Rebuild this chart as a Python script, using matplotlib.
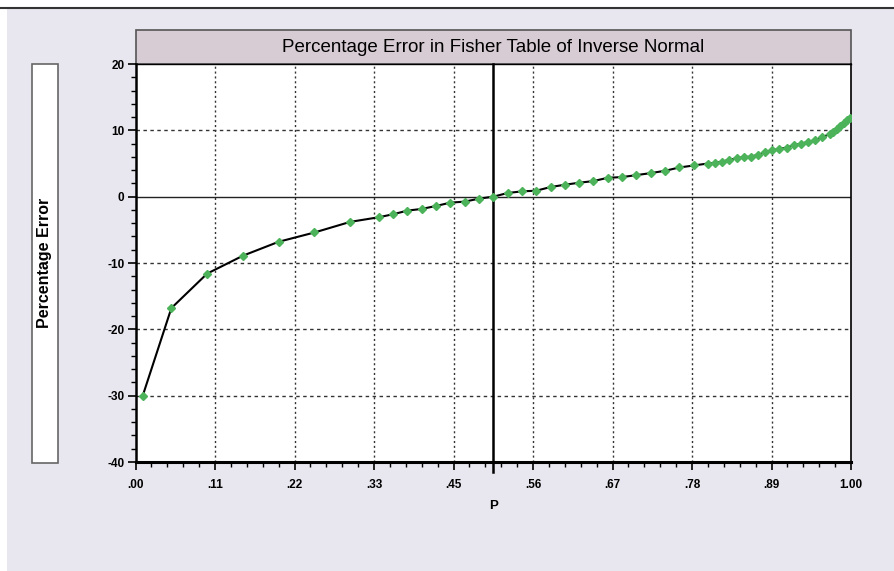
import matplotlib.pyplot as plt
import numpy as np
from matplotlib.patches import Rectangle
from matplotlib.ticker import MultipleLocator, FixedLocator

p = [0.01, 0.05, 0.10, 0.15, 0.20, 0.25, 0.30, 0.34, 0.36, 0.38, 0.40, 0.42,
     0.44, 0.46, 0.48, 0.50, 0.52, 0.54, 0.56, 0.58, 0.60, 0.62, 0.64, 0.66,
     0.68, 0.70, 0.72, 0.74, 0.76, 0.78, 0.80, 0.81, 0.82, 0.83, 0.84, 0.85,
     0.86, 0.87, 0.88, 0.89, 0.90, 0.91, 0.92, 0.93, 0.94, 0.95, 0.96, 0.97,
     0.975, 0.98, 0.985, 0.99, 0.995, 0.999]
err = [-30.0, -16.8, -11.6, -8.9, -6.8, -5.4, -3.8, -3.1, -2.65, -2.1, -1.85, -1.4,
       -0.9, -0.75, -0.3, 0.0, 0.55, 0.8, 0.9, 1.45, 1.8, 2.1, 2.35, 2.85,
       2.95, 3.25, 3.55, 3.9, 4.4, 4.7, 5.0, 5.1, 5.3, 5.55, 5.8, 5.95,
       6.05, 6.3, 6.7, 7.0, 7.2, 7.4, 7.75, 8.0, 8.25, 8.55, 8.95, 9.45,
       9.8, 10.2, 10.65, 11.1, 11.5, 11.9]

xtick_pos = [i / 9 for i in range(10)]
xtick_lab = [".00", ".11", ".22", ".33", ".45", ".56", ".67", ".78", ".89", "1.00"]
ytick_pos = [-40, -30, -20, -10, 0, 10, 20]

W, H = 895, 571
fig = plt.figure(figsize=(W / 100, H / 100), dpi=100)
fig.patch.set_facecolor("white")

def fx(px):
    return px / W

def fy(py):
    return 1 - py / H

# background panel
fig.patches.append(Rectangle((fx(7), 0), 1 - fx(7), fy(8), transform=fig.transFigure,
                             facecolor="#e8e6ee", edgecolor="none", zorder=-2))
fig.add_artist(plt.Line2D([0, 1], [fy(8), fy(8)], transform=fig.transFigure,
                          color="#333333", lw=1.5))

# y label box
fig.patches.append(Rectangle((fx(32), fy(463)), fx(26), (463 - 64) / H,
                             transform=fig.transFigure, facecolor="white",
                             edgecolor="#666666", lw=1.2, zorder=1))
fig.text(fx(45), fy(263), "Percentage Error", rotation=90, ha="center", va="center",
         fontsize=11.5, fontweight="bold", family="Liberation Sans")

# title box
fig.patches.append(Rectangle((fx(135.6), fy(64)), fx(715.4), 34 / H,
                             transform=fig.transFigure, facecolor="#d8ccd4",
                             edgecolor="#555555", lw=1.2, zorder=1))
fig.text(fx(493), fy(47), "Percentage Error in Fisher Table of Inverse Normal",
         ha="center", va="center", fontsize=13.5, family="Liberation Sans")

ax = fig.add_axes([fx(135.6), fy(462), fx(715.4), 398 / H])
ax.set_zorder(3)
ax.set_facecolor("white")
ax.set_xlim(0, 1)
ax.set_ylim(-40, 20)

ax.plot(p, err, color="black", lw=1.5, zorder=3)
ax.plot(p, err, ls="none", marker="D", ms=3.6, color="#4db35a", mec="#4db35a", zorder=4)

ax.axhline(0, color="#222222", lw=1.0, zorder=2)
ax.axvline(0.5, ymin=-0.025, ymax=1, color="black", lw=1.8, zorder=2, clip_on=False)

for xv in xtick_pos[1:-1]:
    ax.axvline(xv, color="#333333", lw=1.0, ls=(0, (1.5, 2)), zorder=1)
for yv in [-30, -20, -10, 10]:
    ax.axhline(yv, color="#333333", lw=1.0, ls=(0, (2.5, 2.5)), zorder=1)

ax.xaxis.set_major_locator(FixedLocator(xtick_pos))
ax.xaxis.set_minor_locator(FixedLocator([i / 45 for i in range(46)]))
ax.set_xticklabels(xtick_lab)
ax.yaxis.set_major_locator(FixedLocator(ytick_pos))
ax.yaxis.set_minor_locator(MultipleLocator(2))
ax.set_yticklabels([str(v) for v in ytick_pos])

ax.tick_params(which="major", direction="out", length=6, width=1.2, color="black",
               labelsize=8.5)
ax.tick_params(which="minor", direction="out", length=3.5, width=1.0, color="black")
ax.tick_params(axis="x", pad=6)
ax.tick_params(axis="y", pad=2)
for lab in ax.get_xticklabels() + ax.get_yticklabels():
    lab.set_fontweight("bold")
    lab.set_family(["Liberation Sans Narrow", "Liberation Sans"])

ax.spines["bottom"].set_linewidth(2.2)
ax.spines["left"].set_linewidth(1.8)
ax.spines["top"].set_linewidth(1.0)
ax.spines["right"].set_linewidth(1.2)

ax.set_xlabel("P", fontsize=9.5, fontweight="bold",
              family=["Liberation Sans Narrow", "Liberation Sans"], labelpad=7)

fig.savefig("out.png", dpi=100)
